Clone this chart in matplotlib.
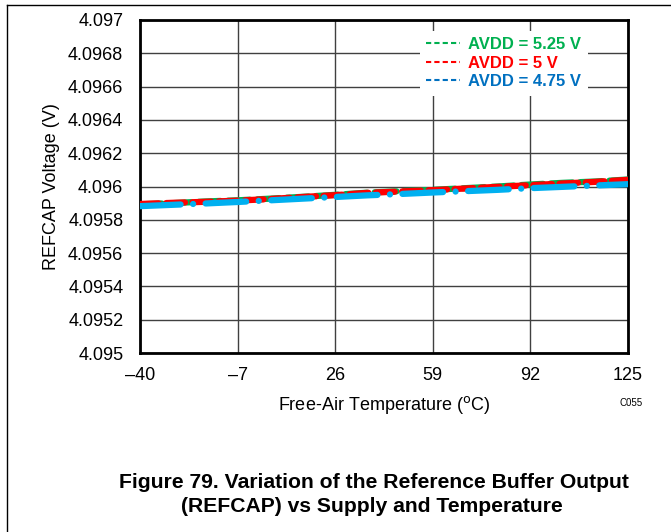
import matplotlib
matplotlib.use("Agg")
import matplotlib.pyplot as plt
from matplotlib.lines import Line2D

plt.rcParams['font.family'] = ['Liberation Sans', 'DejaVu Sans']

temps = [-40, -29, -18, -7, 4, 15, 26, 37, 48, 59, 70, 81, 92, 103, 114, 125]
v_525 = [4.095893, 4.095900, 4.095910, 4.095917, 4.095927, 4.095938, 4.095950, 4.095963,
         4.095972, 4.095980, 4.095990, 4.096000, 4.096012, 4.096022, 4.096030, 4.096042]
v_500 = [4.095895, 4.095902, 4.095908, 4.095915, 4.095925, 4.095937, 4.095948, 4.095962,
         4.095970, 4.095978, 4.095988, 4.095998, 4.096008, 4.096018, 4.096028, 4.096040]
v_475 = [4.095882, 4.095890, 4.095898, 4.095907, 4.095917, 4.095927, 4.095937, 4.095947,
         4.095955, 4.095964, 4.095972, 4.095980, 4.095990, 4.095998, 4.096006, 4.096014]
labels = ["AVDD = 5.25 V", "AVDD = 5 V", "AVDD = 4.75 V"]
xticks = [-40, -7, 26, 59, 92, 125]
xticklabels = ["\u201340", "\u20137", "26", "59", "92", "125"]
yticks = [4.095, 4.0952, 4.0954, 4.0956, 4.0958, 4.096, 4.0962, 4.0964, 4.0966, 4.0968, 4.097]
yticklabels = ["4.095", "4.0952", "4.0954", "4.0956", "4.0958", "4.096", "4.0962",
               "4.0964", "4.0966", "4.0968", "4.097"]

green = '#00B050'
red = '#FF0000'
blue_line = '#00B0F0'
blue_text = '#0070C0'

fig = plt.figure(figsize=(6.71, 5.32), dpi=100)
ax = fig.add_axes([140/671, 1-353/532, 488/671, 333/532])

ax.plot(temps, v_525, color=green, lw=4.5, dashes=(3.5, 1.2), dash_capstyle='round', zorder=3)
ax.plot(temps, v_500, color=red, lw=4.5, dashes=(3.0, 1.2), dash_capstyle='round', zorder=4)
ax.plot(temps, v_475, color=blue_line, lw=4.5, dashes=(6.5, 2, 0.01, 2), dash_capstyle='round', zorder=5)

ax.set_xlim(-40, 125)
ax.set_ylim(4.095, 4.097)
ax.set_xticks(xticks)
ax.set_xticklabels(xticklabels)
ax.set_yticks(yticks)
ax.set_yticklabels(yticklabels)
ax.tick_params(length=0, labelsize=13, colors='black')
ax.tick_params(axis='y', pad=12)
ax.tick_params(axis='x', pad=10)
ax.grid(True, color='#404040', lw=1)
ax.set_axisbelow(True)
for s in ax.spines.values():
    s.set_linewidth(2)
    s.set_color('black')

ax.set_xlabel("Free-Air Temperature ($^{\\mathrm{o}}$C)", fontsize=13, labelpad=7)
ax.set_ylabel("REFCAP Voltage (V)", fontsize=13, labelpad=6)

handles = [Line2D([], [], color=green, lw=1.5, ls=(0, (2.5, 1.5))),
           Line2D([], [], color=red, lw=1.5, ls=(0, (2.5, 1.5))),
           Line2D([], [], color=blue_text, lw=1.5, ls=(0, (2.5, 1.5)))]
leg = ax.legend(handles, labels, loc='upper left', bbox_to_anchor=(0.556, 0.993),
                frameon=True, facecolor='white', edgecolor='none', framealpha=1,
                fancybox=False, handlelength=2.0, handletextpad=0.5, labelspacing=0.2,
                prop={'weight': 'bold', 'size': 12},
                labelcolor=[green, red, blue_text], borderpad=0.4)
leg.set_zorder(10)

fig.text(631/671, 1-403/532, "C055", fontsize=7, ha='center', va='center')
fig.text(374/671, 1-482/532, "Figure 79. Variation of the Reference Buffer Output",
         fontsize=15.2, weight='bold', ha='center', va='center')
fig.text(372/671, 1-507/532, "(REFCAP) vs Supply and Temperature",
         fontsize=15.2, weight='bold', ha='center', va='center')

# page frame (top and left edges)
fig.add_artist(Line2D([7/671, 1], [1-5/532, 1-5/532], color='black', lw=1, transform=fig.transFigure))
fig.add_artist(Line2D([7/671, 7/671], [0, 1-5/532], color='black', lw=1, transform=fig.transFigure))

fig.savefig("out.png", dpi=100)
